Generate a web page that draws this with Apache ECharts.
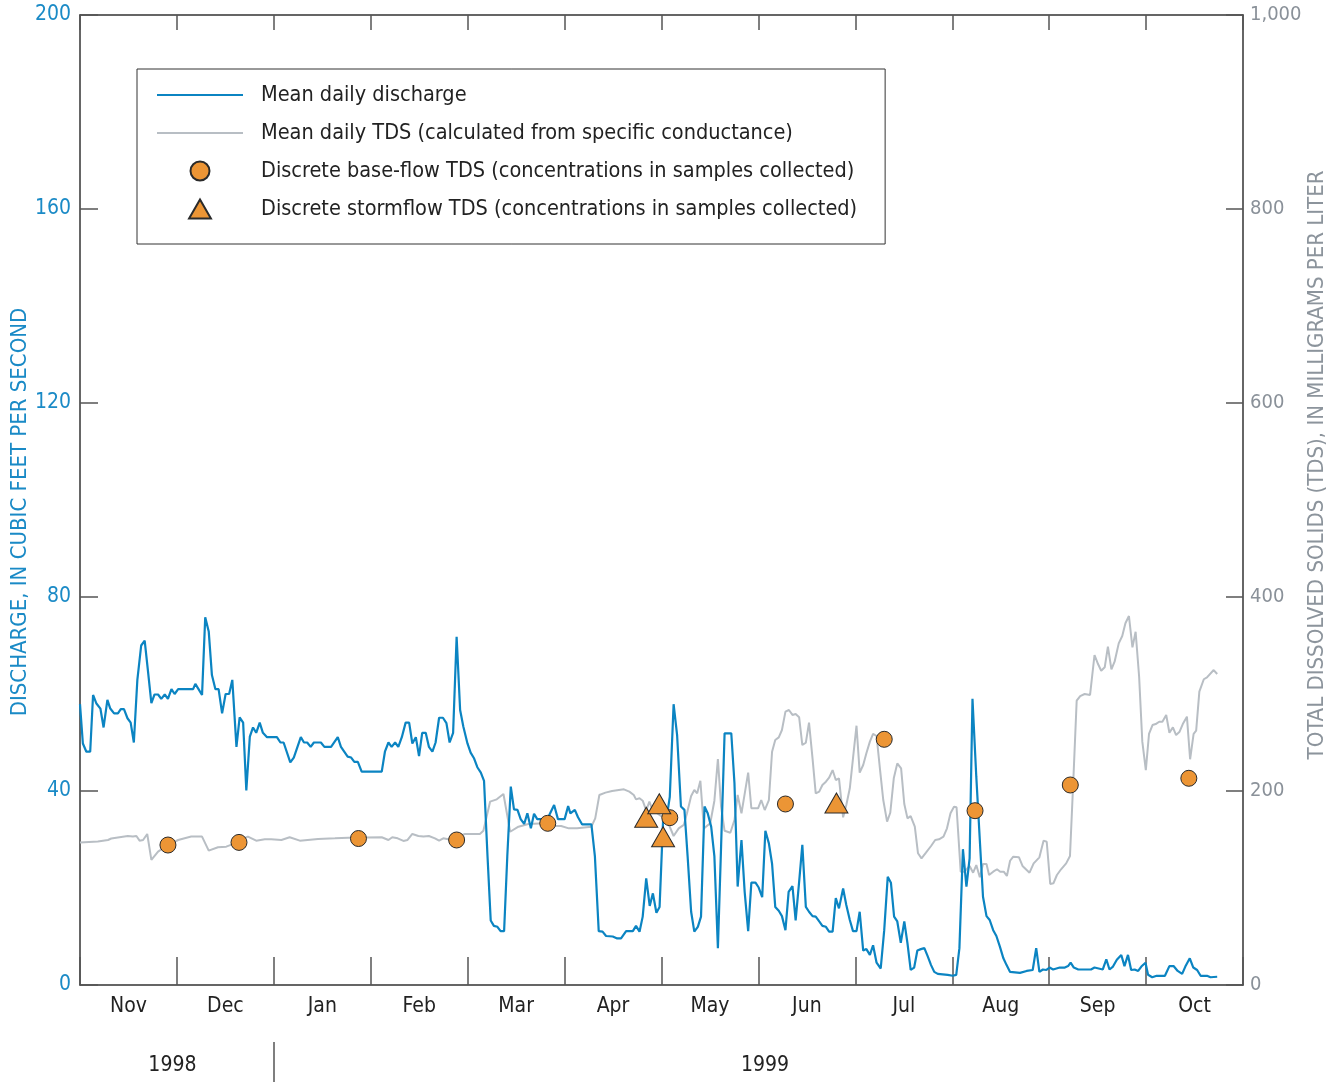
<!DOCTYPE html>
<html><head><meta charset="utf-8">
<script src="https://cdn.jsdelivr.net/npm/echarts@6/dist/echarts.min.js"></script>
<style>html,body{margin:0;padding:0;background:#fff}#c{width:1343px;height:1082px}</style>
</head><body><div id="c"></div><script>
// x values are days from 1 Nov 1998 on a scale of 12 equal months (365 days)
const months = ['Nov','Dec','Jan','Feb','Mar','Apr','May','Jun','Jul','Aug','Sep','Oct'];
const yearLabels = ['1998','1999'];
const yearLabelDays = [29, 215];
const yearDividerDay = 365 / 12 * 2;

const dischargeDays = [0,0.9,2,3.2,4.1,5.1,6.4,7.4,8.6,9.5,10.7,11.9,12.8,13.8,14.9,15.9,16.9,18,19.2,20.3,21.3,22.4,23.4,24.5,25.5,26.6,27.6,28.7,29.7,30.8,35.5,36.2,37.2,38.3,39.3,40.4,41.4,42.5,43.5,44.6,45.7,46.8,47.8,49.1,50.1,51.2,52.2,53.3,54.3,55.3,56.4,57.4,58.7,61.8,62.9,63.9,66,67.1,69.3,70.3,71.3,72.4,73.4,75.6,76.7,78.8,80.9,81.9,84,85.1,86.1,87.2,88.4,94.7,95.7,96.8,97.8,98.9,99.9,101,102.2,103.3,104.3,105.4,106.4,107.4,108.5,109.5,110.6,111.6,112.7,113.9,115,116,117.1,118.2,119.3,120.3,121.6,122.6,123.7,124.7,125.8,126.8,127.9,128.9,129.9,131,132,133.1,134.1,135.2,136.2,137.3,138.3,139.4,140.4,141.5,142.5,143.5,144.6,146,148.8,150,152.1,153.2,153.9,155.3,156.3,157.6,160.5,161.6,162.8,164,165.1,167.2,168.6,169.8,171.4,173.5,174.5,175.6,176.6,177.7,178.8,179.8,180.9,181.9,183,184,185.1,186.3,187.4,188.6,189.7,190.7,191.8,192.8,193.9,194.9,196,197,198.1,199.1,200.2,201.2,202.3,204.4,205.4,206.4,207.6,208.6,209.7,210.7,212,213,214.1,215.1,216.2,217.2,218.2,219.3,220.3,221.4,222.4,223.6,224.6,225.7,226.7,227.8,228.8,229.9,230.9,232,233,234.1,235.1,236.2,237.2,238.2,239.5,240.5,241.6,242.6,243.7,244.7,245.8,246.8,247.9,248.9,250,251.3,252.4,253.5,254.5,255.5,256.5,257.6,258.7,259.7,260.7,261.8,262.8,263.9,265,266,267.1,268.1,269.2,272.3,273.9,275,276,277.1,278.2,279.2,280.1,281.3,282.4,283.4,284.5,285.5,286.6,287.6,288.7,289.8,290.8,291.9,295,297.1,299,300.1,301.1,302.2,303.3,304.3,305.4,307.5,309.1,310.1,310.9,311.9,313.3,317.3,318.4,321,322.1,323.1,324.2,325.4,326.8,327.8,328.9,329.9,331,332.1,333.1,334.4,335.2,336.5,337.9,340.5,341.9,343.2,344.5,345.9,346.9,348.3,349.4,350.6,351.7,353.7,354.8,356.9];
const dischargeValues = [57.9,49.8,48.1,48.1,59.8,58.1,57.0,53.1,58.8,57.0,56.0,56.0,56.9,56.9,55.0,54.1,50.0,62.9,70.0,71.0,64.9,58.1,59.9,59.9,59.0,59.9,59.0,61.0,60.0,61.0,61.0,62.1,61.0,59.8,75.8,72.9,63.9,61.0,61.0,56.0,60.0,60.0,62.9,49.1,55.2,54.1,40.1,51.2,53.1,52.0,54.1,52.0,51.1,51.1,50.0,50.0,45.9,46.9,51.1,50.0,50.0,49.1,50.0,50.0,49.1,49.1,51.1,49.1,47.1,46.9,46.0,46.0,44.0,44.0,48.1,50.0,49.1,50.0,49.1,51.1,54.1,54.1,49.8,51.1,47.2,52.0,52.0,49.1,48.1,50.0,55.1,55.1,54.0,50.0,52.0,71.8,56.7,53.3,49.8,47.9,46.7,44.9,43.8,42.1,26.5,13.3,12.2,12.0,11.1,11.1,26.5,40.9,36.2,36.1,34.2,33.2,35.4,32.3,35.3,34.2,34.2,33.3,37.1,34.2,34.2,36.9,35.4,36.1,34.6,33.1,33.1,26.5,11.1,11.0,10.1,10.0,9.6,9.6,11.1,11.1,12.2,11.0,14.1,22.0,16.3,18.9,14.9,16.1,34.0,34.0,38.8,57.9,51.5,36.8,36.1,26.5,15.1,11.0,12.0,14.1,36.8,35.4,32.6,26.5,7.6,28.5,51.9,51.9,41.6,20.3,29.9,19.2,11.1,21.1,21.1,20.1,18.1,31.8,29.2,25.0,16.1,15.3,14.2,11.3,19.2,20.4,13.3,21.3,28.9,16.1,15.1,14.2,14.1,13.1,12.2,12.0,11.0,11.0,17.9,15.8,19.9,16.5,13.4,11.1,11.1,15.1,7.1,7.4,6.2,8.2,4.6,3.4,11.3,22.3,21.1,14.1,13.1,8.7,13.1,8.6,3.1,3.6,7.1,7.4,7.6,6.0,4.1,2.7,2.3,2.1,1.9,2.1,7.6,28.0,20.3,26.1,59.0,42.9,29.9,18.2,14.2,13.4,11.3,10.1,7.9,5.5,4.1,2.7,2.5,2.9,3.1,7.6,2.7,3.2,3.1,3.6,3.2,3.6,3.6,3.9,4.6,3.6,3.2,3.2,3.6,3.2,5.3,3.2,3.8,5.2,6.2,3.9,6.2,3.1,3.2,2.9,3.8,4.6,2.1,1.6,1.9,1.9,3.9,3.9,2.9,2.3,3.8,5.5,3.6,3.1,1.9,1.9,1.6,1.7];

const tdsDays = [0,5.6,8.8,9.8,15,16.6,17.7,18.7,19.8,21.1,22.4,24.5,26.5,28.7,30.8,34.9,38.3,40.4,43.3,45.9,48.6,50.5,52.7,55.3,58,60,63.2,65.8,69,74.7,80,84.2,94.7,96.8,98,99.7,101.5,102.8,104.3,106.2,107.8,109.5,111.4,112.7,114,115.6,120.8,125.5,126.6,128.7,130.8,132.9,135,137.6,140.7,146,148.1,151,153.4,156,160.5,161.7,163,164.9,167,169.1,170.7,172.4,173.8,174.5,175.6,176.6,177.7,178.7,179.7,182,184.2,186.3,187.9,189.5,190.5,191.8,192.8,193.7,194.7,195.8,197.8,199.1,200.2,201.2,202.3,204.1,205.4,206.4,207.6,209.7,210.7,212.8,213.8,214.9,216.2,217.2,218.2,219.3,220.3,221.4,222.5,223.6,224.6,225.7,226.7,227.8,228.8,229.9,230.9,232,233,234.1,235.1,236.2,237.2,238.2,239.5,240.5,241.6,242.6,243.7,244.7,245.8,246.8,247.9,248.9,250,251.1,252.1,253.3,254.3,255.4,256.5,257.7,258.7,259.7,260.7,262,263,264.1,265.5,267.1,268.4,269.6,271,272.1,273.2,274.3,275.1,276.4,277.6,279.2,280.3,281.3,282.4,283.4,284.5,285.3,286.6,287.8,288.8,289.9,290.9,291.9,292.9,294.7,295.8,298,299.3,301.1,302.4,303.4,304.5,305.5,306.6,307.9,309.5,310.7,311.8,312.8,313.9,315.3,317,318.4,319.5,320.5,321.6,322.6,323.7,324.7,326,327.1,328.1,329.2,330.3,331.3,332.4,333.4,334.5,335.5,336.6,337.6,338.7,339.7,340.9,341.9,343,344,345.1,346.1,347.4,348.4,349.5,350.3,351.3,352.7,353.7,355.8,356.9];
const tdsValues = [147,148,149.5,151,153.6,153,153.6,148.8,149.5,155.7,128.9,137.5,142,146,149.5,153,153,138.5,142,142.6,146,150,153,148.8,150.2,150.2,149.5,152.3,148.8,150.5,151.2,151.9,152.3,149.5,152.3,151.2,148.5,149.5,155.7,153.6,153,153.6,151.2,148.8,151.2,150.2,155.7,155.7,159,189,191.4,196.9,158,163.2,166,166.7,164.2,163.9,161.5,161.5,163.2,171.8,195.9,198.3,200,201,201.7,199.3,195.9,191.4,192.5,190,180,189,180.4,175,170.1,153.6,161.5,165,177,194.8,201,197.6,210.6,161.5,166.7,190,233,183.8,159,157,170.1,195.9,177,218.9,182.2,182.2,190.7,180.4,190.7,240.5,252.6,255.3,262.9,281.8,283.5,278.4,279.4,276,247.4,249.8,270.4,233.7,197.6,199.3,206.2,209.6,213.7,221.6,211.3,213.1,172.9,185.6,202.8,233.7,267.3,218.9,226.8,238.9,250.9,258.8,256.7,221.6,190.7,168.4,177.6,213.1,228.5,223.4,186.6,171.8,174.2,163.2,135.8,130.6,136.4,143.3,149.5,150.2,152.9,161.5,177,183.8,183.2,116.8,116.8,122.7,115.8,123.7,111,124.7,124.7,113.4,116.8,119.3,116.8,116.8,112.4,128.1,132.3,131.6,122.7,115.8,125.4,131.6,148.8,147.7,104.1,104.8,113.4,119.3,125.4,133,215,293.1,297.9,300,299,340.2,330.9,324,327.5,348.8,325.4,333.3,352.2,359.8,372.9,380.4,348.1,364.2,317.8,250.9,221.6,258.8,268,269,271.4,271.4,278.4,260.1,265.6,257.7,261.1,269,276.6,232.7,258.8,262.2,302.4,315.2,317.2,324.7,320.6];

const baseFlowDays = [27.6,49.9,87.4,118.2,146.8,185.1,221.4,252.4,280.9,310.8,348];
const baseFlowTDS = [144.3,147,151,149.5,166.7,172.5,186.6,253.3,179.7,206.2,213.1];
const stormDays = [177.7,181.8,183,237.4];
const stormTDS = [173,186.9,152.9,187.6];

const zip = (a, b) => a.map((x, i) => [x, b[i]]);
const FONT = "'DejaVu Sans Condensed','Liberation Sans Narrow','Arial Narrow',sans-serif";
const BLUE = '#0b84c2', GRAY = '#b8bec4', ORANGE = '#ec9535', AXIS = '#333';
const M = 365 / 12;
const NAMES = ['Mean daily discharge', 'Mean daily TDS (calculated from specific conductance)',
  'Discrete base-flow TDS (concentrations in samples collected)',
  'Discrete stormflow TDS (concentrations in samples collected)'];

const chart = echarts.init(document.getElementById('c'), null, {renderer: 'canvas'});
chart.setOption({
  animation: false,
  backgroundColor: '#fff',
  grid: {left: 80, right: 100, top: 15, bottom: 97, containLabel: false, outerBoundsMode: 'none'},
  legend: {
    orient: 'vertical', left: 137, top: 69,
    padding: [14, 28, 23, 20], itemGap: 14, itemWidth: 86, itemHeight: 19,
    borderColor: AXIS, borderWidth: 1,
    textStyle: {fontFamily: FONT, fontSize: 21.5, color: '#222', lineHeight: 24, padding: [0, 0, 0, 13]},
    data: [
      {name: NAMES[0], icon: 'path://M0,0H86V2H0Z'},
      {name: NAMES[1], icon: 'path://M0,0H86V2H0Z'},
      {name: NAMES[2], icon: 'circle'},
      {name: NAMES[3], icon: 'path://M11.5,0L23,20H0Z'}
    ]
  },
  xAxis: [
    {type: 'value', min: 0, max: 365, interval: M, position: 'bottom',
     axisLine: {show: true, onZero: false, lineStyle: {color: AXIS, width: 1.5}},
     axisTick: {show: true, inside: true, length: 28, lineStyle: {color: '#555', width: 1.5}},
     axisLabel: {show: false}, splitLine: {show: false}},
    {type: 'value', min: 0, max: 365, interval: M, position: 'top',
     axisLine: {show: true, onZero: false, lineStyle: {color: AXIS, width: 1.5}},
     axisTick: {show: true, inside: true, length: 15, lineStyle: {color: '#555', width: 1.5}},
     axisLabel: {show: false}, splitLine: {show: false}},
    {type: 'category', data: months, boundaryGap: true, position: 'bottom',
     axisLine: {show: false, onZero: false}, axisTick: {show: false}, splitLine: {show: false},
     axisLabel: {margin: 11, fontFamily: FONT, fontSize: 21, color: '#222', interval: 0}},
    {type: 'value', min: 0, max: 365, position: 'bottom', offset: 57,
     axisLine: {show: false, onZero: false}, splitLine: {show: false},
     axisTick: {show: true, length: 40, customValues: [yearDividerDay], lineStyle: {color: '#555', width: 1.5}},
     axisLabel: {show: true, margin: 13, customValues: yearLabelDays, fontFamily: FONT, fontSize: 21, color: '#222',
       formatter: v => yearLabels[yearLabelDays.indexOf(v)] || ''}}
  ],
  yAxis: [
    {type: 'value', min: 0, max: 200, interval: 40, position: 'left',
     name: 'DISCHARGE, IN CUBIC FEET PER SECOND', nameLocation: 'middle', nameRotate: 90, nameGap: 49,
     nameMoveOverlap: false,
     nameTextStyle: {fontFamily: FONT, fontSize: 22, color: '#1a8ac6', padding: [0, 24, 0, 0]},
     axisLine: {show: true, onZero: false, lineStyle: {color: AXIS, width: 1.5}},
     axisTick: {show: true, inside: true, length: 18, lineStyle: {color: '#555', width: 1.5}},
     axisLabel: {margin: 9, fontFamily: FONT, fontSize: 21, color: '#1a8ac6'},
     splitLine: {show: false}},
    {type: 'value', min: 0, max: 1000, interval: 200, position: 'right',
     name: 'TOTAL DISSOLVED SOLIDS (TDS), IN MILLIGRAMS PER LITER', nameLocation: 'middle', nameRotate: 90, nameGap: 63,
     nameMoveOverlap: false,
     nameTextStyle: {fontFamily: FONT, fontSize: 22, color: '#8c949c', padding: [0, 0, 0, 70]},
     axisLine: {show: true, onZero: false, lineStyle: {color: AXIS, width: 1.5}},
     axisTick: {show: true, inside: true, length: 17, lineStyle: {color: '#555', width: 1.5}},
     axisLabel: {margin: 7, fontFamily: FONT, fontSize: 20, color: '#8a9199',
       formatter: v => v.toLocaleString('en-US')},
     splitLine: {show: false}}
  ],
  series: [
    {name: NAMES[1], type: 'line', xAxisIndex: 0, yAxisIndex: 1,
     data: zip(tdsDays, tdsValues), symbol: 'none', lineStyle: {color: GRAY, width: 2}, itemStyle: {color: GRAY}, z: 2},
    {name: NAMES[0], type: 'line', xAxisIndex: 0, yAxisIndex: 0,
     data: zip(dischargeDays, dischargeValues), symbol: 'none', lineStyle: {color: BLUE, width: 2.2}, itemStyle: {color: BLUE}, z: 3},
    {name: NAMES[2], type: 'scatter', xAxisIndex: 0, yAxisIndex: 1,
     data: zip(baseFlowDays, baseFlowTDS), symbol: 'circle', symbolSize: 16,
     itemStyle: {color: ORANGE, borderColor: '#2a2a2a', borderWidth: 1, opacity: 1}, z: 5},
    {name: NAMES[3], type: 'scatter', xAxisIndex: 0, yAxisIndex: 1,
     data: zip(stormDays, stormTDS), symbol: 'triangle', symbolSize: [23, 20],
     itemStyle: {color: ORANGE, borderColor: '#2a2a2a', borderWidth: 1, opacity: 1}, z: 5}
  ]
});
</script></body></html>
